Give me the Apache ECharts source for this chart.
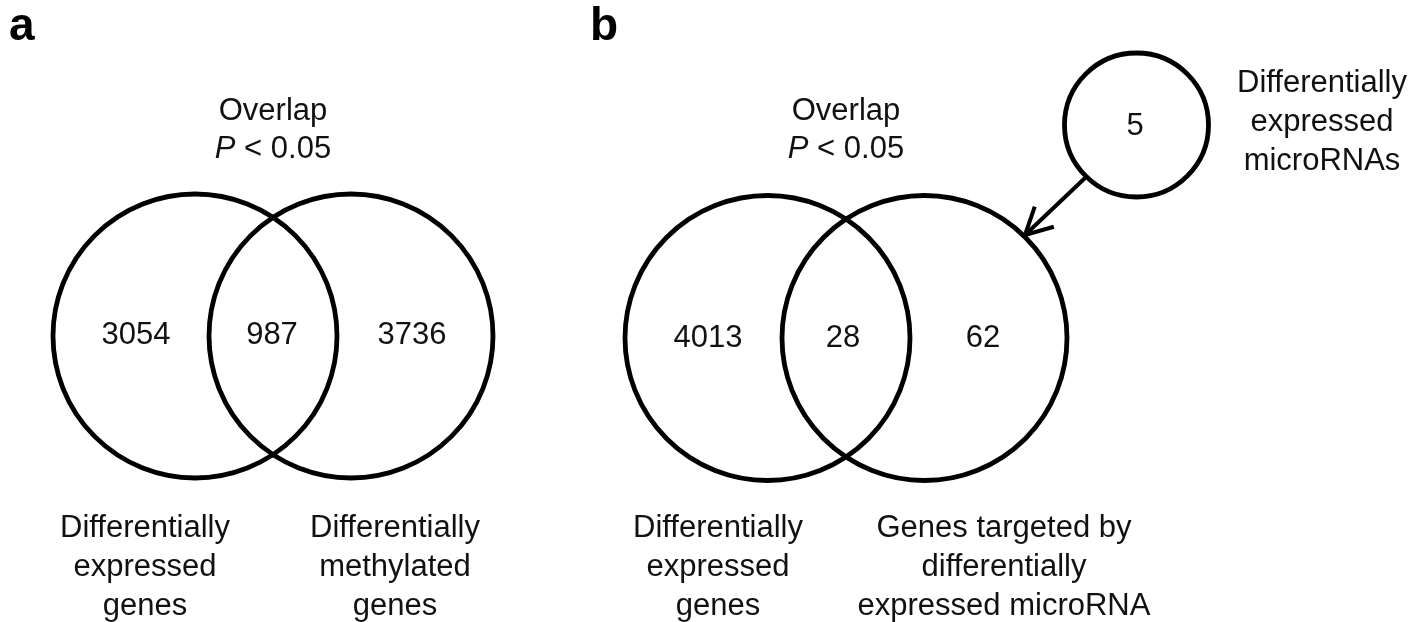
<!DOCTYPE html>
<html><head><meta charset="utf-8">
<script src="https://cdn.jsdelivr.net/npm/echarts@6/dist/echarts.min.js"></script>
<style>html,body{margin:0;padding:0;background:#fff}#c{width:1427px;height:622px}</style>
</head><body><div id="c"></div>
<script>
// ---- data ----
const countsA = [3054, 987, 3736];
const countsB = [4013, 28, 62];
const countsMirna = [5];
const setNamesA = ['Differentially\nexpressed\ngenes', 'Differentially\nmethylated\ngenes'];
const setNamesB = ['Differentially\nexpressed\ngenes', 'Genes targeted by\ndifferentially\nexpressed microRNA'];
const mirnaName = ['Differentially\nexpressed\nmicroRNAs'];
const overlapTitle = ['Overlap', '{i|P} < 0.05'];
const panelLetters = ['a', 'b'];

// ---- layout (axis units) ----
const circleX = [195, 351, 767.5, 924.5, 1136.5];
const circleY = [336, 336, 338, 338, 125];
const circleR = [142, 142, 142.5, 142.5, 72];
const countX = [136, 272, 412, 708, 843, 983, 1135];
const countY = [335, 335, 335, 338, 338, 338, 126];
const overlapX = [273, 846];
const overlapY = [111, 149];
const nameX = [145, 395, 718, 1004, 1322];
const nameY = [567, 567, 567, 567, 122];
const letterX = [9, 590];
const letterY = [27, 27];
const arrowFrom = [1085, 178];
const arrowTo = [1025, 235];

const FONT = '"Liberation Sans", Arial, Helvetica, sans-serif';
const FS = 31;
const allCounts = [...countsA, ...countsB, ...countsMirna].map(String);
const allNames = [...setNamesA, ...setNamesB, ...mirnaName];

const chart = echarts.init(document.getElementById('c'), null, {renderer: 'canvas'});
chart.setOption({
  animation: false,
  backgroundColor: '#fff',
  grid: {left: 0, right: 0, top: 0, bottom: 0},
  xAxis: {type: 'value', min: 0, max: 1427, show: false},
  yAxis: {type: 'value', min: 0, max: 622, inverse: true, show: false},
  series: [
    {
      type: 'custom', name: 'circles',
      data: circleX.map((x, i) => [x, circleY[i], circleR[i]]),
      renderItem: (p, api) => {
        const c = api.coord([api.value(0), api.value(1)]);
        const r = api.size([api.value(2), 0])[0];
        return {type: 'circle', shape: {cx: c[0], cy: c[1], r: r},
          style: {fill: 'none', stroke: '#000', lineWidth: 4.8}};
      }
    },
    {
      type: 'custom', name: 'arrow',
      data: [[arrowFrom[0], arrowFrom[1], arrowTo[0], arrowTo[1]]],
      renderItem: (p, api) => {
        const a = api.coord([api.value(0), api.value(1)]);
        const b = api.coord([api.value(2), api.value(3)]);
        const ang = Math.atan2(a[1] - b[1], a[0] - b[0]);
        const L = 30, sp = 0.48;
        const p1 = [b[0] + L * Math.cos(ang + sp), b[1] + L * Math.sin(ang + sp)];
        const p2 = [b[0] + L * Math.cos(ang - sp), b[1] + L * Math.sin(ang - sp)];
        const st = {fill: 'none', stroke: '#000', lineWidth: 4, lineJoin: 'miter'};
        return {type: 'group', children: [
          {type: 'line', shape: {x1: a[0], y1: a[1], x2: b[0], y2: b[1]}, style: st},
          {type: 'polyline', shape: {points: [p1, b, p2]}, style: st}
        ]};
      }
    },
    {
      type: 'custom', name: 'counts',
      data: countX.map((x, i) => [x, countY[i]]),
      renderItem: (p, api) => {
        const c = api.coord([api.value(0), api.value(1)]);
        return {type: 'text', x: c[0], y: c[1], style: {text: allCounts[p.dataIndex],
          fill: '#111', font: FS + 'px ' + FONT, align: 'center', verticalAlign: 'middle'}};
      }
    },
    {
      type: 'custom', name: 'overlap',
      data: overlapX.map(x => [x]),
      renderItem: (p, api) => {
        const c1 = api.coord([api.value(0), overlapY[0]]);
        const c2 = api.coord([api.value(0), overlapY[1]]);
        return {type: 'group', children: [
          {type: 'text', x: c1[0], y: c1[1], style: {text: overlapTitle[0], fill: '#111',
            font: FS + 'px ' + FONT, align: 'center', verticalAlign: 'middle'}},
          {type: 'text', x: c2[0], y: c2[1], style: {text: overlapTitle[1], fill: '#111',
            font: FS + 'px ' + FONT, align: 'center', verticalAlign: 'middle',
            rich: {i: {fontStyle: 'italic', fontSize: FS, fontFamily: FONT, fill: '#111'}}}}
        ]};
      }
    },
    {
      type: 'custom', name: 'setNames',
      data: nameX.map((x, i) => [x, nameY[i]]),
      renderItem: (p, api) => {
        const c = api.coord([api.value(0), api.value(1)]);
        return {type: 'text', x: c[0], y: c[1], style: {text: allNames[p.dataIndex],
          fill: '#111', font: FS + 'px ' + FONT, align: 'center', verticalAlign: 'middle', lineHeight: 39}};
      }
    },
    {
      type: 'custom', name: 'letters',
      data: letterX.map((x, i) => [x, letterY[i]]),
      renderItem: (p, api) => {
        const c = api.coord([api.value(0), api.value(1)]);
        return {type: 'text', x: c[0], y: c[1], style: {text: panelLetters[p.dataIndex],
          fill: '#000', font: 'bold 46px ' + FONT, align: 'left', verticalAlign: 'middle'}};
      }
    }
  ]
});
</script></body></html>
